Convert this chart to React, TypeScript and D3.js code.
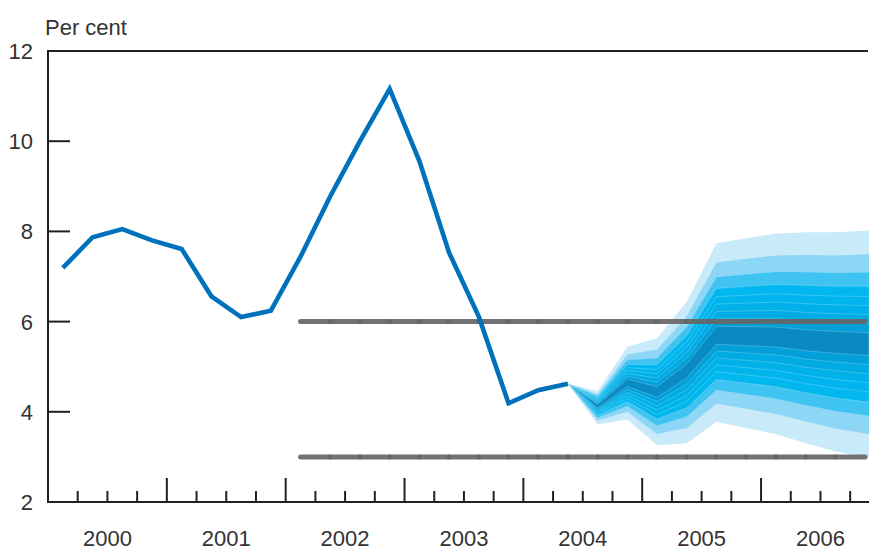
import * as d3 from 'd3';

const WIDTH = 869;
const HEIGHT = 551;
const PLOT = { left: 48, top: 51, right: 868, bottom: 502 };
const FONT = 'Liberation Sans, Arial, Helvetica, sans-serif';

// history, quarterly
const histQuarters = [
  '2000Q1', '2000Q2', '2000Q3', '2000Q4',
  '2001Q1', '2001Q2', '2001Q3', '2001Q4',
  '2002Q1', '2002Q2', '2002Q3', '2002Q4',
  '2003Q1', '2003Q2', '2003Q3', '2003Q4',
  '2004Q1', '2004Q2',
];
const histValues = [
  7.19, 7.87, 8.05, 7.8, 7.61, 6.56, 6.1, 6.24,
  7.44, 8.78, 10.0, 11.16, 9.56, 7.53, 6.11, 4.19,
  4.48, 4.62,
];

// fan chart: centre of the dark band and outer (90%) edges
const fanQuarters = [
  '2004Q2', '2004Q3', '2004Q4', '2005Q1', '2005Q2', '2005Q3',
  '2005Q4', '2006Q1', '2006Q2', '2006Q3', '2006Q4',
];
const fanCentre = [4.62, 4.13, 4.64, 4.44, 4.91, 5.69, 5.67, 5.65, 5.58, 5.54, 5.5];
const fanUpper = [4.62, 4.46, 5.44, 5.63, 6.44, 7.74, 7.85, 7.95, 7.98, 7.98, 8.02];
const fanLower = [4.62, 3.72, 3.83, 3.26, 3.3, 3.78, 3.64, 3.5, 3.31, 3.12, 2.98];
// share of the distance centre -> outer edge for each band edge, inner to outer
const bandShares = [0.1, 0.18, 0.26, 0.34, 0.42, 0.51, 0.63, 0.79, 1];
const bandColours = [
  '#0a8ac3', '#029fd8', '#00aae3', '#00b0e9', '#00b4ec',
  '#00b7ee', '#3fc3f0', '#8ed6f5', '#c8eaf9',
];

// target range
const targetLevels = [6, 3];
const targetStart = '2002Q1';
const targetEnd = '2006Q4';

const yTicks = [2, 4, 6, 8, 10, 12];
const yearLabels = ['2000', '2001', '2002', '2003', '2004', '2005', '2006'];

const quarterMid = (q: string) => +q.slice(0, 4) + (+q.slice(5) - 0.5) / 4;

export default function App() {
  const x = d3.scaleLinear().domain([2000, 2006.9]).range([PLOT.left, PLOT.right]);
  const y = d3.scaleLinear().domain([2, 12]).range([PLOT.bottom, PLOT.top]);

  const histLine = d3
    .line<number>()
    .x((_, i) => x(quarterMid(histQuarters[i])))
    .y(d => y(d));

  const last = fanQuarters.length - 1;
  const fanX = (i: number) => (i === last ? WIDTH : x(quarterMid(fanQuarters[i])));
  const bands = bandShares
    .map((share, k) => {
      const gen = d3
        .area<number>()
        .x((_, i) => fanX(i))
        .y0((_, i) => y(fanCentre[i] - share * (fanCentre[i] - fanLower[i])))
        .y1((_, i) => y(fanCentre[i] + share * (fanUpper[i] - fanCentre[i])));
      return { k, d: gen(fanCentre) as string, fill: bandColours[k] };
    })
    .reverse();

  // quarter steps for the target lines
  const t0 = quarterMid(targetStart);
  const t1 = quarterMid(targetEnd);
  const steps = d3.range(t0, t1 + 0.01, 0.25);

  const qTicks = d3.range(1, 28).map(i => 2000 + i / 4);

  return (
    <svg
      width={WIDTH}
      height={HEIGHT}
      style={{ position: 'absolute', left: 0, top: 0, background: '#fff' }}
    >
      {bands.map(b => (
        <path
          key={b.k}
          d={b.d}
          fill={b.fill}
          stroke={b.k <= 5 ? 'rgba(255,255,255,0.28)' : 'none'}
          strokeWidth={0.8}
        />
      ))}

      {targetLevels.map(level => (
        <g key={level}>
          {steps.slice(1).map((s, i) => (
            <line
              key={s}
              x1={x(steps[i])}
              x2={x(s)}
              y1={y(level)}
              y2={y(level)}
              stroke="#666"
              strokeOpacity={0.92}
              strokeWidth={5}
              strokeLinecap="round"
            />
          ))}
        </g>
      ))}

      <path
        d={histLine(histValues) as string}
        fill="none"
        stroke="#0072bb"
        strokeWidth={4.6}
      />

      {/* frame */}
      <g stroke="#231f20" strokeWidth={2} fill="none">
        <line x1={PLOT.left} x2={PLOT.left} y1={PLOT.top - 1} y2={PLOT.bottom + 1} />
        <line x1={PLOT.left - 1} x2={PLOT.right} y1={PLOT.top} y2={PLOT.top} />
        <line x1={PLOT.left - 1} x2={WIDTH} y1={PLOT.bottom} y2={PLOT.bottom} />
        {yTicks.slice(1, -1).map(t => (
          <line key={t} x1={PLOT.left} x2={PLOT.left + 22} y1={y(t)} y2={y(t)} />
        ))}
        {qTicks.map(t => (
          <line
            key={t}
            x1={x(t)}
            x2={x(t)}
            y1={PLOT.bottom}
            y2={PLOT.bottom - (Number.isInteger(t) ? 24 : 11)}
          />
        ))}
      </g>

      <g fontFamily={FONT} fontSize={22} fill="#333">
        <text x={45} y={35}>Per cent</text>
        {yTicks.map(t => (
          <text key={t} x={33} y={y(t)} dy="0.36em" textAnchor="end">
            {t}
          </text>
        ))}
        {yearLabels.map(yr => (
          <text key={yr} x={x(+yr + 0.5)} y={546} textAnchor="middle">
            {yr}
          </text>
        ))}
      </g>
    </svg>
  );
}
